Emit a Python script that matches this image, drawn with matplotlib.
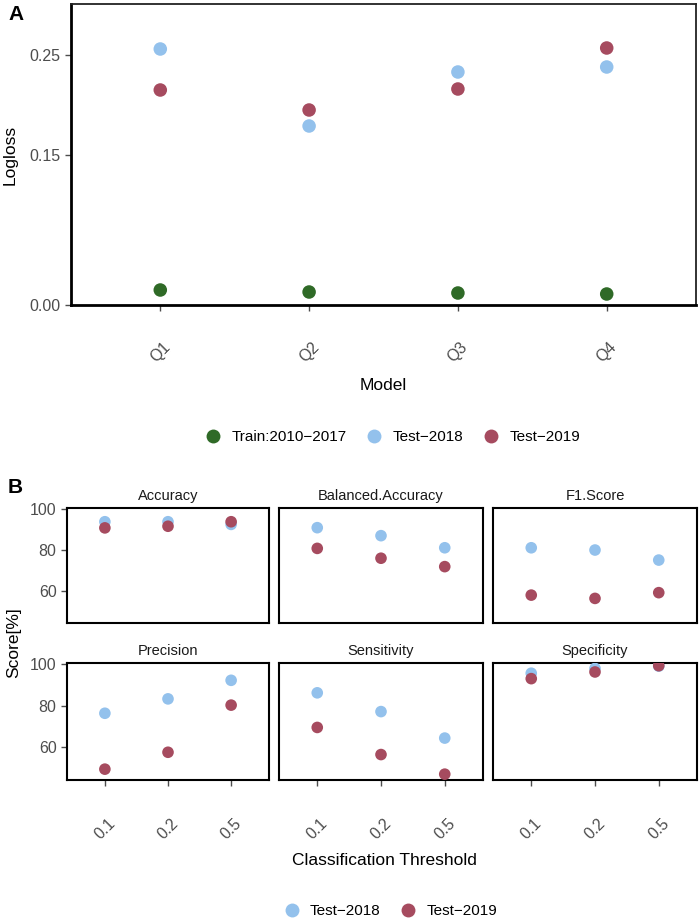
import matplotlib
matplotlib.use("Agg")
import matplotlib.pyplot as plt
from matplotlib.lines import Line2D

plt.rcParams['font.family'] = ['Liberation Sans', 'DejaVu Sans']

# ---------------- data ----------------
models = ["Q1", "Q2", "Q3", "Q4"]
logloss_train = [0.015, 0.013, 0.012, 0.011]
logloss_2018 = [0.256, 0.179, 0.233, 0.238]
logloss_2019 = [0.215, 0.195, 0.216, 0.257]
logloss_ticks = [0.00, 0.15, 0.25]

thresholds = ["0.1", "0.2", "0.5"]
metrics = ["Accuracy", "Balanced.Accuracy", "F1.Score",
           "Precision", "Sensitivity", "Specificity"]
score_2018 = {
    "Accuracy": [93.8, 93.8, 92.5],
    "Balanced.Accuracy": [90.9, 87.0, 81.1],
    "F1.Score": [81.1, 80.0, 75.1],
    "Precision": [76.4, 83.3, 92.2],
    "Sensitivity": [86.2, 77.2, 64.5],
    "Specificity": [95.6, 97.9, 99.0],
}
score_2019 = {
    "Accuracy": [90.8, 91.6, 93.8],
    "Balanced.Accuracy": [80.8, 76.0, 71.9],
    "F1.Score": [58.0, 56.4, 59.2],
    "Precision": [49.6, 57.7, 80.3],
    "Sensitivity": [69.6, 56.6, 47.2],
    "Specificity": [93.0, 96.2, 99.2],
}
score_ticks = [60, 80, 100]

# ---------------- style ----------------
C_TRAIN = "#2F6A27"
C_2018 = "#93C1EC"
C_2019 = "#A64B5F"
TICK_COL = "#4D4D4D"

W, H = 700, 921
fig = plt.figure(figsize=(W / 100, H / 100), dpi=100)


def px_axes(x0, y0, x1, y1):
    return fig.add_axes([x0 / W, 1 - y1 / H, (x1 - x0) / W, (y1 - y0) / H])


# ---------------- Panel A ----------------
axA = px_axes(71, 4, 696, 305)
xs = list(range(len(models)))
axA.scatter(xs, logloss_train, s=95, color=C_TRAIN, edgecolors='none', zorder=3)
axA.scatter(xs, logloss_2018, s=95, color=C_2018, edgecolors='none', zorder=3)
axA.scatter(xs, logloss_2019, s=95, color=C_2019, edgecolors='none', zorder=3)
axA.set_xlim(-0.6, 3.6)
axA.set_ylim(0.0, 0.301)
axA.set_yticks(logloss_ticks)
axA.set_yticklabels([f"{v:.2f}" for v in logloss_ticks])
axA.set_xticks(xs)
axA.set_xticklabels(models, rotation=45, ha='center', va='top')
axA.tick_params(axis='both', colors=TICK_COL, labelcolor=TICK_COL,
                labelsize=11.5, length=4, width=1)
axA.tick_params(axis='x', pad=21)
for side in ['top', 'right']:
    axA.spines[side].set_linewidth(1.3)
    axA.spines[side].set_color('#222222')
for side in ['left', 'bottom']:
    axA.spines[side].set_linewidth(2.0)
    axA.spines[side].set_color('black')
axA.set_ylabel("Logloss", fontsize=12.5, labelpad=6)
axA.yaxis.set_label_coords(-0.085, 0.5)
fig.text(383.5 / W, 1 - 385 / H, "Model", fontsize=12.5, ha='center', va='center')

handlesA = [Line2D([], [], marker='o', linestyle='', markersize=10,
                   markerfacecolor=c, markeredgecolor='none')
            for c in (C_TRAIN, C_2018, C_2019)]
fig.legend(handlesA, ["Train:2010\u22122017", "Test\u22122018", "Test\u22122019"],
           loc='center', bbox_to_anchor=(392 / W, 1 - 437 / H), ncol=3,
           frameon=False, fontsize=11, handletextpad=0.6, columnspacing=1.2,
           handlelength=1.2)

fig.text(8 / W, 1 - 14 / H, "A", fontsize=15, fontweight='bold', ha='left', va='center')

# ---------------- Panel B ----------------
cols_px = [(67, 269), (279, 483), (493, 697)]
rows_px = [(508, 623), (663, 780)]
for i, metric in enumerate(metrics):
    r, c = divmod(i, 3)
    x0, x1 = cols_px[c]
    y0, y1 = rows_px[r]
    ax = px_axes(x0, y0, x1, y1)
    xt = list(range(len(thresholds)))
    ax.scatter(xt, score_2018[metric], s=70, color=C_2018, edgecolors='none', zorder=3)
    ax.scatter(xt, score_2019[metric], s=70, color=C_2019, edgecolors='none', zorder=3)
    ax.set_xlim(-0.6, 2.6)
    ax.set_ylim(44.4, 100.5)
    for sp in ax.spines.values():
        sp.set_linewidth(1.5)
        sp.set_color('black')
    ax.set_title(metric, fontsize=10.5, color='#1A1A1A', pad=6)
    if c == 0:
        ax.set_yticks(score_ticks)
        ax.tick_params(axis='y', colors=TICK_COL, labelcolor=TICK_COL,
                       labelsize=11.5, length=4, width=1)
    else:
        ax.set_yticks([])
    if r == 1:
        ax.set_xticks(xt)
        ax.set_xticklabels(thresholds, rotation=45, ha='center', va='top')
        ax.tick_params(axis='x', colors=TICK_COL, labelcolor=TICK_COL,
                       labelsize=11.5, length=4, width=1, pad=22)
    else:
        ax.set_xticks([])

fig.text(14 / W, 1 - 643 / H, "Score[%]", fontsize=12.5, rotation=90,
         ha='center', va='center')
fig.text(384 / W, 1 - 860 / H, "Classification Threshold", fontsize=12.5,
         ha='center', va='center')

handlesB = [Line2D([], [], marker='o', linestyle='', markersize=10,
                   markerfacecolor=c, markeredgecolor='none')
            for c in (C_2018, C_2019)]
fig.legend(handlesB, ["Test\u22122018", "Test\u22122019"],
           loc='center', bbox_to_anchor=(390 / W, 1 - 911 / H), ncol=2,
           frameon=False, fontsize=11, handletextpad=0.6, columnspacing=1.2,
           handlelength=1.2)

fig.text(8 / W, 1 - 487 / H, "B", fontsize=15, fontweight='bold', ha='left', va='center')

fig.savefig("out.png", dpi=100)
